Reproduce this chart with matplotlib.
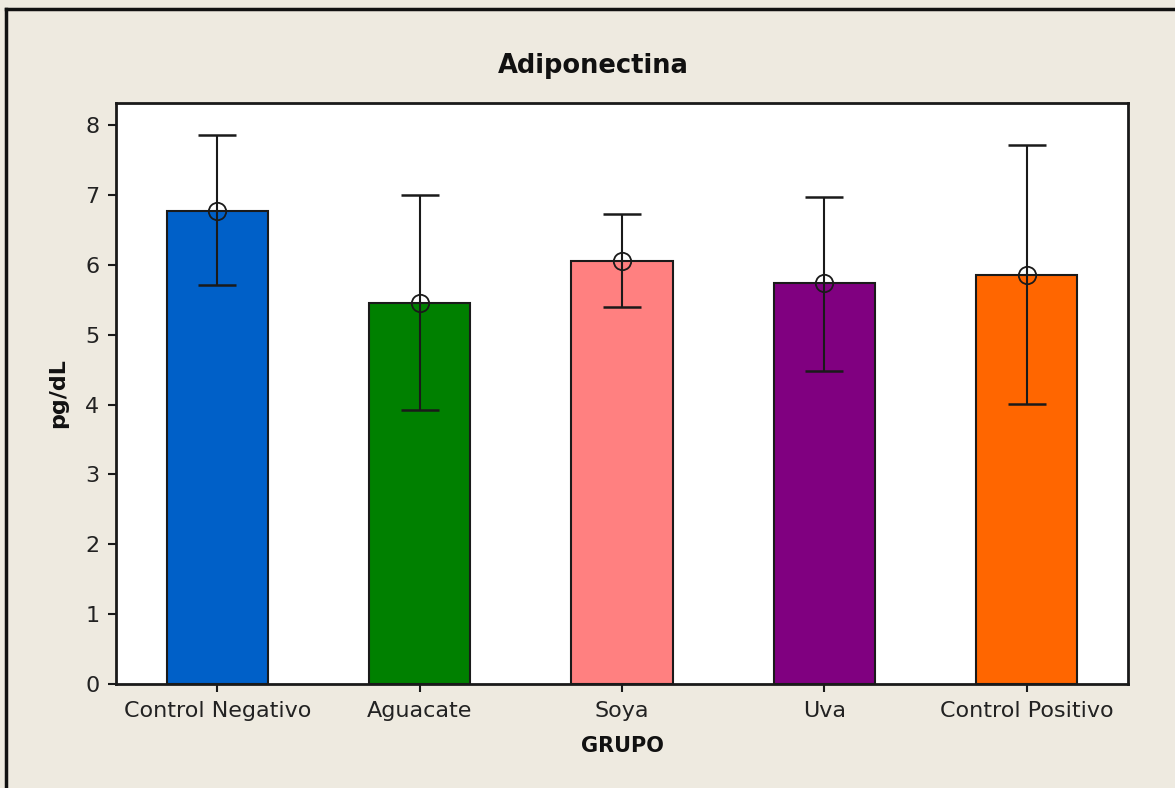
import matplotlib
matplotlib.use("Agg")
import matplotlib.pyplot as plt
from matplotlib.lines import Line2D
import numpy as np

# values
grupos = ["Control Negativo", "Aguacate", "Soya", "Uva", "Control Positivo"]
medias = [6.77, 5.45, 6.06, 5.74, 5.86]
err_bajo = [1.06, 1.53, 0.67, 1.26, 1.85]
err_alto = [1.08, 1.55, 0.67, 1.23, 1.85]
colores = ["#0060C8", "#008000", "#FF8080", "#800080", "#FF6600"]
yticks = [0, 1, 2, 3, 4, 5, 6, 7, 8]

W, H = 1175, 788
fig = plt.figure(figsize=(W / 100, H / 100), dpi=100, facecolor="#EEEAE0")
ax = fig.add_axes([116 / W, 1 - 684 / H, (1128 - 116) / W, (684 - 103) / H])
ax.set_facecolor("white")

x = np.arange(len(grupos))
ax.bar(x, medias, width=0.5, color=colores, edgecolor="#1a1a1a", linewidth=1.5, zorder=2)
ax.errorbar(x, medias, yerr=[err_bajo, err_alto], fmt="none", ecolor="#1a1a1a",
            elinewidth=1.5, capsize=14, capthick=1.8, zorder=3)
ax.plot(x, medias, linestyle="none", marker="o", markersize=12.5,
        markerfacecolor="none", markeredgecolor="#1a1a1a", markeredgewidth=1.3, zorder=4)

ax.set_xlim(-0.5, 4.5)
ax.set_ylim(0, 8.315)
ax.set_yticks(yticks)
ax.set_xticks(x)
ax.set_xticklabels(grupos)
ax.tick_params(axis="both", direction="out", length=6, width=1.5, color="#1a1a1a",
               labelsize=16, labelcolor="#222222", pad=6)
for s in ax.spines.values():
    s.set_linewidth(2)
    s.set_color("#1a1a1a")

ax.set_ylabel("pg/dL", fontsize=16, fontweight="bold", labelpad=12, color="#111111")
ax.set_xlabel("GRUPO", fontsize=15, fontweight="bold", labelpad=11, color="#111111")
fig.text(593 / W, 1 - 66 / H, "Adiponectina", ha="center", va="center",
         fontsize=18.5, fontweight="bold", color="#111111")

# frame lines along the top and left of the figure
fig.add_artist(Line2D([6 / W, 6 / W], [0, 1 - 9 / H], color="#111111", linewidth=2.5,
                      transform=fig.transFigure))
fig.add_artist(Line2D([6 / W, 1], [1 - 9 / H, 1 - 9 / H], color="#111111", linewidth=2.5,
                      transform=fig.transFigure))

fig.savefig("out.png", dpi=100, facecolor=fig.get_facecolor())
